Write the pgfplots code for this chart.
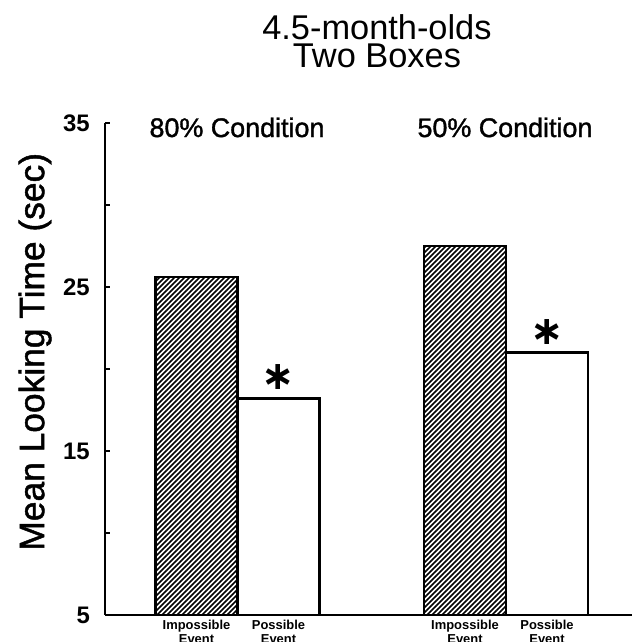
\documentclass[border=0pt]{standalone}
\usepackage{pgfplots}
\pgfplotsset{compat=1.18}
\usetikzlibrary{patterns.meta}
\usepackage{fontspec}
\setmainfont{Liberation Sans}
\newfontfamily\semib[FakeBold=1.3]{Liberation Sans}
\newfontfamily\djv{DejaVu Sans}

\begin{document}
\begin{tikzpicture}
\begin{axis}[
  scale only axis, width=527bp, height=492bp,
  xmin=0, xmax=527, ymin=5, ymax=35,
  axis x line*=bottom, axis y line*=left,
  axis line style={line width=2bp},
  ytick={5,15,25,35}, minor ytick={10,20,30},
  tick align=inside, major tick length=5bp, minor tick length=5bp,
  ytick style={line width=1.5bp, black},
  minor tick style={line width=1.5bp, black},
  xtick={91.5,173.5,360,442},
  xticklabels={Impossible\\Event, Possible\\Event, Impossible\\Event, Possible\\Event},
  xtick style={draw=none},
  xticklabel style={align=center, font=\bfseries\fontsize{13}{14}\selectfont, inner sep=0pt, anchor=north, yshift=0bp},
  yticklabel style={font=\bfseries\fontsize{24}{24}\selectfont, inner sep=0pt, anchor=east, xshift=-15bp},
  /pgf/number format/assume math mode=true,
  ylabel={Mean Looking Time (sec)},
  ylabel style={font=\semib\fontsize{35.5}{35.5}\selectfont, at={(rel axis cs:-0.1328,0.535)}, anchor=center},
  clip=false,
  ybar, bar width=82,
]
\addplot[bar shift=0pt, draw=black, line width=2.5bp,
  pattern={Lines[angle=45,distance=3.536bp,line width=1.6bp]}]
  coordinates {(91.5,25.6) (360,27.5)};
\addplot[bar shift=0pt, fill=white, draw=black, line width=2.2bp,
  nodes near coords={∗},
  every node near coord/.append style={font={\djv\bfseries\fontsize{40}{40}\selectfont}, anchor=center, inner sep=0pt, yshift=21bp}]
  coordinates {(173.5,18.2) (442,21.0)};

\node[anchor=base, align=center, font=\fontsize{34.5}{29}\selectfont] at (rel axis cs:0.516,1.1118) {4.5-month-olds\\Two Boxes};
\node[anchor=base, font=\semib\fontsize{27}{27}\selectfont] at (rel axis cs:0.2505,0.9715) {80\% Condition};
\node[anchor=base, font=\semib\fontsize{27}{27}\selectfont] at (rel axis cs:0.759,0.9715) {50\% Condition};
\end{axis}
\pgfresetboundingbox
\path[use as bounding box] (-105bp,-27bp) rectangle (527bp,615bp);
\end{tikzpicture}
\end{document}
